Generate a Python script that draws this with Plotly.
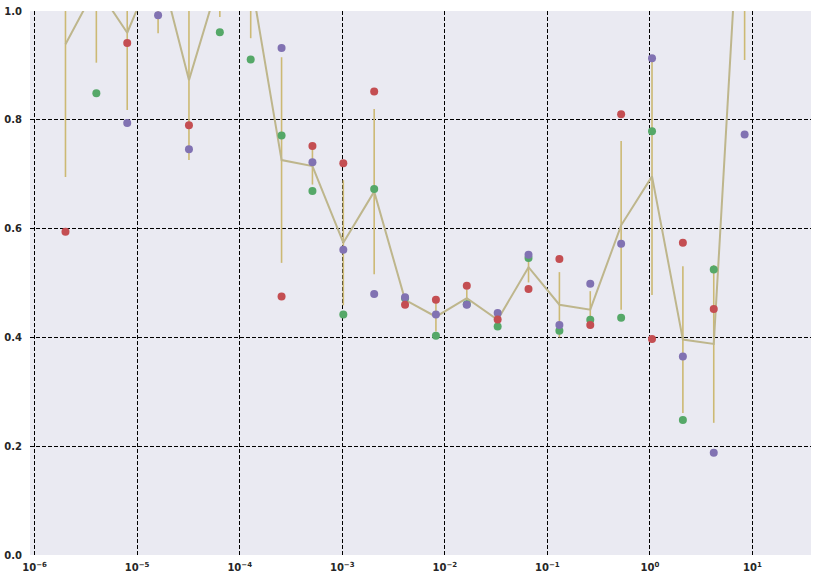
import plotly.graph_objects as go

# x positions: 2e-6 * 2**k
x_vals = [2e-6 * 2 ** k for k in range(24)]

red = [0.594, None, 0.941, None, 0.790, None, None, 0.475, 0.752, 0.720, 0.852, 0.460,
       0.469, 0.495, 0.433, 0.489, 0.544, 0.423, 0.810, 0.397, 0.574, 0.452, None, None]
green = [None, 0.849, None, None, None, 0.961, 0.911, 0.771, 0.669, 0.442, 0.673, 0.472,
         0.403, 0.461, 0.420, 0.546, 0.412, 0.4325, 0.436, 0.779, 0.248, 0.525, None, None]
purple = [None, None, 0.794, 0.992, 0.746, None, None, 0.932, 0.722, 0.561, 0.480, 0.474,
          0.442, 0.460, 0.445, 0.552, 0.423, 0.4985, 0.572, 0.913, 0.365, 0.188, 0.773, None]

mean_vals = [0.939, 1.045, 0.960, 1.095, 0.873, 1.062, 1.061, 0.726, 0.715, 0.574, 0.668, 0.469,
             0.438, 0.472, 0.4325, 0.529, 0.460, 0.451, 0.606, 0.696, 0.396, 0.388, 1.37, 1.55]
err_vals = [0.244, 0.140, 0.142, 0.136, 0.147, 0.073, 0.111, 0.189, 0.034, 0.115, 0.152, 0.006,
            0.027, 0.016, 0.010, 0.028, 0.060, 0.034, 0.155, 0.218, 0.135, 0.145, 0.46, 0.30]

y_ticks = [0.0, 0.2, 0.4, 0.6, 0.8, 1.0]
y_ticktext = ["0.0", "0.2", "0.4", "0.6", "0.8", "1.0"]
x_ticks = [1e-6, 1e-5, 1e-4, 1e-3, 1e-2, 1e-1, 1e0, 1e1]
x_ticktext = ["10<sup>\u22126</sup>", "10<sup>\u22125</sup>", "10<sup>\u22124</sup>", "10<sup>\u22123</sup>",
              "10<sup>\u22122</sup>", "10<sup>\u22121</sup>", "10<sup>0</sup>", "10<sup>1</sup>"]

fig = go.Figure()

fig.add_trace(go.Scatter(
    x=x_vals, y=mean_vals, mode="lines",
    line=dict(color="rgb(190,182,140)", width=2),
    error_y=dict(type="data", array=err_vals, visible=True, color="#CCB974",
                 thickness=1.6, width=0),
    showlegend=False, hoverinfo="skip"))

for vals, col in [(green, "#55A868"), (purple, "#8172B2"), (red, "#C44E52")]:
    fig.add_trace(go.Scatter(
        x=x_vals, y=vals, mode="markers",
        marker=dict(color=col, size=8, line=dict(width=0)),
        showlegend=False, cliponaxis=True))

tick_font = dict(family="DejaVu Sans", size=10, color="#262626", weight="bold")

fig.update_layout(
    width=818, height=582,
    margin=dict(l=30, r=7, t=11, b=27),
    paper_bgcolor="white", plot_bgcolor="#EAEAF2",
    font=tick_font,
)
fig.update_xaxes(type="log", range=[-6.045, 1.571], tickvals=x_ticks, ticktext=x_ticktext,
                 showgrid=True, gridcolor="black", gridwidth=1, griddash="4px,2px",
                 zeroline=False, showline=False, ticks="outside", ticklen=3,
                 tickcolor="rgba(0,0,0,0)", automargin=False, tickfont=tick_font)
fig.update_yaxes(range=[0, 1], tickvals=y_ticks, ticktext=y_ticktext,
                 showgrid=True, gridcolor="black", gridwidth=1, griddash="4px,2px",
                 zeroline=False, showline=False, ticks="outside", ticklen=5,
                 tickcolor="rgba(0,0,0,0)", automargin=False, tickfont=tick_font)

fig.write_html("out.html", config={"displayModeBar": False},
               post_script="document.body.style.margin='0';document.body.style.overflow='hidden';")
